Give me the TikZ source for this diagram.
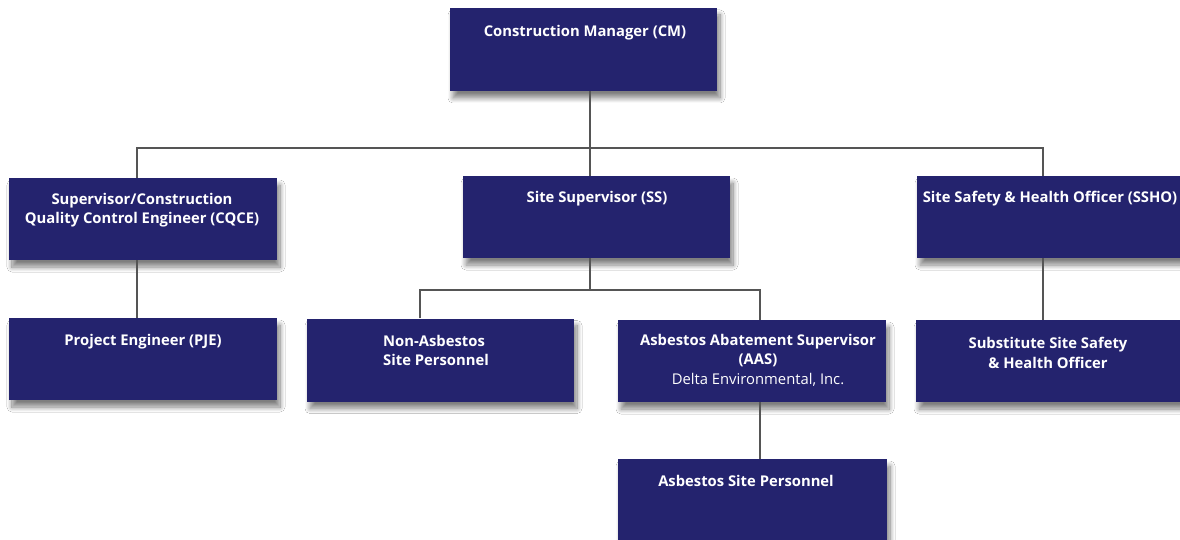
\documentclass[tikz,border=0pt]{standalone}
\usepackage{fontspec}
\setmainfont{Open Sans}
\usetikzlibrary{shadows.blur,calc}
\definecolor{navy}{RGB}{36,35,110}
\definecolor{linegray}{RGB}{85,85,85}
\tikzset{
  box/.style={fill=navy, draw=none, inner sep=0pt,
    blur shadow={shadow xshift=3pt, shadow yshift=-7pt, shadow blur steps=12, shadow blur radius=5pt, shadow opacity=50}},
  lbl/.style={text=white, font=\fontsize{14.8}{19.5}\selectfont\bfseries, align=center, anchor=north, inner sep=0pt},
  conn/.style={draw=linegray, line width=1.6pt}
}
\begin{document}
\begin{tikzpicture}[x=1pt,y=-1pt]
\useasboundingbox[fill=white] (0,0) rectangle (1180,540);
% boxes
\node[box, minimum width=267pt, minimum height=83pt] (cm) at (583.5,49.5) {};
\node[box, minimum width=268pt, minimum height=82pt] (cqce) at (143,219) {};
\node[box, minimum width=267pt, minimum height=82pt] (ss) at (596.5,217) {};
\node[box, minimum width=265pt, minimum height=82pt] (ssho) at (1049.5,217) {};
\node[box, minimum width=268pt, minimum height=82pt] (pje) at (143,359) {};
\node[box, minimum width=267pt, minimum height=83pt] (nonas) at (440.5,360) {};
\node[box, minimum width=268pt, minimum height=82pt] (aas) at (752,361) {};
\node[box, minimum width=266pt, minimum height=82pt] (ssub) at (1049,361) {};
\node[box, minimum width=269pt, minimum height=86pt] (asp) at (752.5,502) {};
% labels
\node[lbl] (tcm) at (585,25) {Construction Manager (CM)};
\node[lbl] (tcqce) at (142,193) {Supervisor/Construction\\Quality Control Engineer (CQCE)};
\node[lbl] (tss) at (597,191) {Site Supervisor (SS)};
\node[lbl] (tssho) at (1050,191) {Site Safety \& Health Officer (SSHO)};
\node[lbl] (tpje) at (143,334) {Project Engineer (PJE)};
\node[lbl, align=left, anchor=north west] (tnonas) at (383,335) {Non-Asbestos\\Site Personnel};
\node[lbl] (taas) at (758,334) {Asbestos Abatement Supervisor\\(AAS)\\{\mdseries Delta Environmental, Inc.}};
\node[lbl] (tssub) at (1048,337) {Substitute Site Safety\\\& Health Officer};
\node[lbl] (tasp) at (746,475) {Asbestos Site Personnel};
% connector junctions
\coordinate (j1) at (590,148);
\coordinate (jl) at (137,148);
\coordinate (jr) at (1043,148);
\coordinate (j2) at (590,290);
\coordinate (j2l) at (420,290);
\coordinate (j2r) at (760,290);
% connectors
\draw[conn] (cm.south -| j1) -- (j1);
\draw[conn] (cqce.north -| jl) -- (jl) -- (jr) -- (ssho.north -| jr);
\draw[conn] (j1) -- (ss.north -| j1);
\draw[conn] (cqce.south -| jl) -- (pje.north -| jl);
\draw[conn] (ss.south -| j2) -- (j2);
\draw[conn] (nonas.north -| j2l) -- (j2l) -- (j2r) -- (aas.north -| j2r);
\draw[conn] (aas.south -| j2r) -- (asp.north -| j2r);
\draw[conn] (ssho.south -| jr) -- (ssub.north -| jr);
\end{tikzpicture}
\end{document}
